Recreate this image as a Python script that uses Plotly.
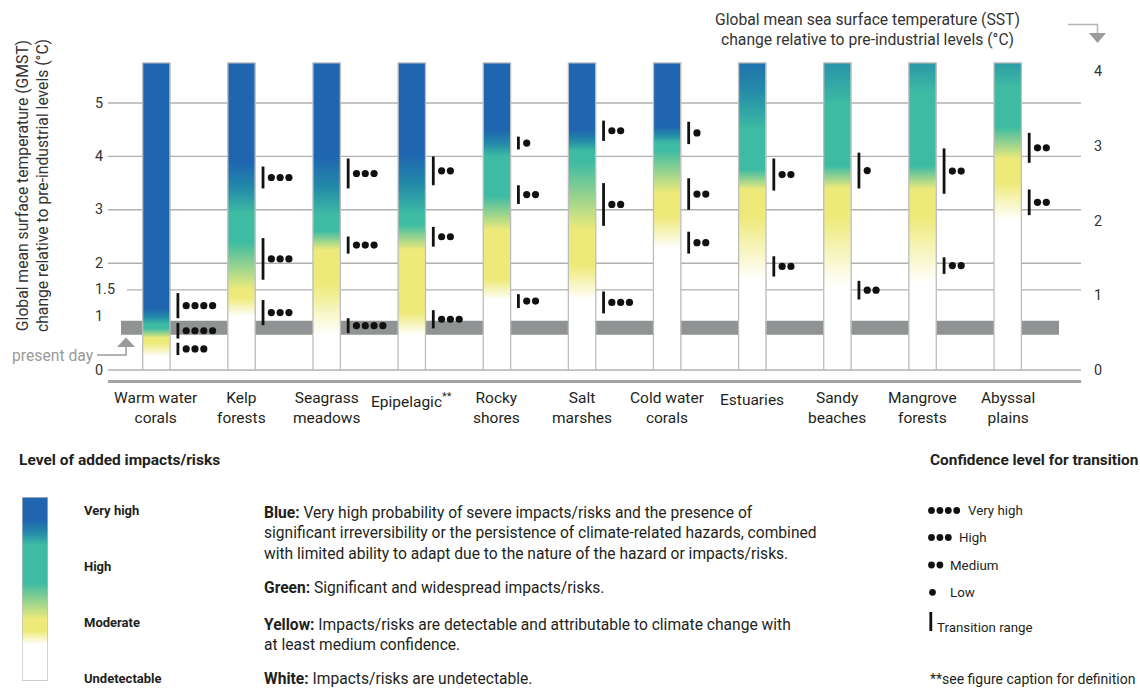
import numpy as np
import plotly.graph_objects as go

W, H = 1140, 689

# ---------------- data ----------------
CATEGORIES = ["Warm water<br>corals", "Kelp<br>forests", "Seagrass<br>meadows",
              "Epipelagic<sup>**</sup>", "Rocky<br>shores", "Salt<br>marshes",
              "Cold water<br>corals", "Estuaries", "Sandy<br>beaches", "Mangrove<br>forests",
              "Abyssal<br>plains"]

# ember colour anchors (long form): bar index, GMST (deg C), risk level
# level: 0 undetectable (white), 1 moderate (yellow), 2 high (green), 3 very high (blue)
EMBER_BAR = [0, 0, 0, 0, 0, 0, 0, 0,
             1, 1, 1, 1, 1, 1, 1, 1,
             2, 2, 2, 2, 2, 2, 2, 2,
             3, 3, 3, 3, 3, 3, 3, 3,
             4, 4, 4, 4, 4, 4, 4, 4,
             5, 5, 5, 5, 5, 5, 5, 5,
             6, 6, 6, 6, 6, 6, 6, 6,
             7, 7, 7, 7, 7, 7, 7,
             8, 8, 8, 8, 8, 8, 8,
             9, 9, 9, 9, 9, 9, 9,
             10, 10, 10, 10, 10, 10, 10]
EMBER_T = [0, 0.25, 0.50, 0.60, 0.78, 0.85, 1.15, 5.75,
           0, 1.00, 1.35, 1.50, 2.40, 2.95, 3.90, 5.75,
           0, 0.66, 1.60, 2.25, 2.60, 2.90, 4.00, 5.75,
           0, 0.66, 1.06, 2.25, 2.72, 2.93, 4.05, 5.75,
           0, 1.31, 1.69, 2.62, 3.25, 4.00, 4.50, 5.75,
           0, 1.31, 1.95, 2.62, 3.90, 4.10, 4.50, 5.75,
           0, 2.28, 2.87, 3.31, 4.12, 4.25, 4.56, 5.75,
           0, 1.69, 2.85, 3.38, 3.75, 4.50, 5.75,
           0, 1.56, 2.85, 3.40, 3.82, 5.00, 5.75,
           0, 1.62, 2.85, 3.38, 3.82, 5.20, 5.75,
           0, 2.81, 3.50, 3.95, 4.55, 5.30, 5.75]
EMBER_LEVEL = [0, 0, 1, 1, 2, 2, 3, 3,
               0, 0, 1, 1, 2, 2, 3, 3,
               0, 0, 1, 1, 2, 2, 3, 3,
               0, 0, 1, 1, 2, 2, 3, 3,
               0, 0, 1, 1, 2, 2, 3, 3,
               0, 0, 1, 1, 2, 2, 3, 3,
               0, 0, 1, 1, 2, 2, 3, 3,
               0, 0, 1, 1, 2, 2, 2.80,
               0, 0, 1, 1, 2, 2, 2.40,
               0, 0, 1, 1, 2, 2, 2.35,
               0, 0, 1, 1, 2, 2, 2.30]
BAR_TOP = 5.75

# transitions: bar index, range (GMST deg C), confidence (number of dots)
TRANS_BAR = [0, 0, 0, 1, 1, 1, 2, 2, 2, 3, 3, 3, 4, 4, 4, 5, 5, 5, 6, 6, 6,
             7, 7, 8, 8, 9, 9, 10, 10]
TRANS_LO = [0.28, 0.59, 0.97, 0.84, 1.69, 3.40, 0.69, 2.18, 3.40, 0.78, 2.31, 3.46,
            1.16, 3.11, 4.13, 1.06, 2.70, 4.29, 2.18, 3.00, 4.23,
            1.75, 3.36, 1.32, 3.40, 1.80, 3.30, 2.90, 3.88]
TRANS_HI = [0.51, 0.88, 1.44, 1.31, 2.47, 3.81, 0.97, 2.50, 3.96, 1.12, 2.68, 4.00,
            1.42, 3.46, 4.37, 1.47, 3.50, 4.67, 2.59, 3.59, 4.65,
            2.13, 3.96, 1.67, 4.07, 2.11, 4.15, 3.38, 4.44]
TRANS_CONF = [3, 4, 4, 3, 3, 3, 4, 3, 3, 3, 2, 2,
              2, 2, 1, 3, 2, 2, 2, 2, 1,
              2, 2, 2, 1, 2, 2, 2, 2]

PRESENT_DAY = [0.66, 0.92]          # GMST band
GMST_TICKS = [0, 1, 1.5, 2, 3, 4, 5]
GRID_VALUES = [0, 1.5, 2, 3, 4, 5]
SST_TICKS = [0, 1, 2, 3, 4]
GMST_PER_SST = 1.4

# ---------------- geometry / style ----------------
X0_PX, CAT_PX = 156.4, 85.13
Y0_PX, DEG_PX = 370.0, 53.4
PL, PR, PT, PB = 108, 1081, 55, 385
HALF = 13.7 / CAT_PX
FONT = "Roboto"
TXT = "#231f20"


def px(x):
    return x / W


def py(y):
    return 1 - y / H


x_range = [(PL - X0_PX) / CAT_PX, (PR - X0_PX) / CAT_PX]
y_range = [(Y0_PX - PB) / DEG_PX, (Y0_PX - PT) / DEG_PX]

CS = [[0, "#ffffff"], [1 / 3, "#eeea7a"], [2 / 3, "#3dbba3"], [0.83, "#2389a9"], [1, "#1f65b0"]]

fig = go.Figure()

# embers
edges = np.linspace(0, BAR_TOP, 576)
centers = (edges[:-1] + edges[1:]) / 2
for b in range(len(CATEGORIES)):
    t = [EMBER_T[k] for k in range(len(EMBER_BAR)) if EMBER_BAR[k] == b]
    lv = [EMBER_LEVEL[k] for k in range(len(EMBER_BAR)) if EMBER_BAR[k] == b]
    z = np.interp(centers, t, lv).reshape(-1, 1)
    fig.add_trace(go.Heatmap(x=[b - HALF, b + HALF], y=edges, z=z, colorscale=CS,
                             zmin=0, zmax=3, showscale=False, hoverinfo="skip"))

# transition markers
LINE_OFF = 21.5 / CAT_PX
lx, ly, dx, dy = [], [], [], []
for b, lo, hi, n in zip(TRANS_BAR, TRANS_LO, TRANS_HI, TRANS_CONF):
    xl = b + LINE_OFF
    lx += [xl, xl, None]
    ly += [lo, hi, None]
    for k in range(n):
        dx.append(xl + (8.3 + 8.8 * k) / CAT_PX)
        dy.append((lo + hi) / 2)
fig.add_trace(go.Scatter(x=lx, y=ly, mode="lines", line=dict(color="#111111", width=2.8),
                         hoverinfo="skip", showlegend=False))
fig.add_trace(go.Scatter(x=dx, y=dy, mode="markers", marker=dict(color="#111111", size=7.2),
                         hoverinfo="skip", showlegend=False))
# dummy for right axis
fig.add_trace(go.Scatter(x=[0], y=[0], yaxis="y2", mode="markers", marker=dict(opacity=0),
                         hoverinfo="skip", showlegend=False))

# legend colour bar
LEG_POS = [0, 0.2, 0.27, 0.335, 0.535, 0.74, 0.876, 1]
LEG_LVL = [0, 0, 1, 1, 2, 2, 3, 3]
le = np.linspace(0, 1, 301)
lc = (le[:-1] + le[1:]) / 2
fig.add_trace(go.Heatmap(x=[0, 1], y=le, z=np.interp(lc, LEG_POS, LEG_LVL).reshape(-1, 1),
                         colorscale=CS, zmin=0, zmax=3, showscale=False, hoverinfo="skip",
                         xaxis="x3", yaxis="y3"))

shapes = []
# gridlines
for v in GRID_VALUES:
    x0 = 127 if v == 1.5 else PL
    shapes.append(dict(type="line", xref="paper", yref="y", x0=px(x0), x1=px(PR), y0=v, y1=v,
                       line=dict(color="#b0b0b0", width=1.4), layer="below"))
# present-day band
shapes.append(dict(type="rect", xref="x", yref="y", x0=(121 - X0_PX) / CAT_PX,
                   x1=(1059 - X0_PX) / CAT_PX, y0=PRESENT_DAY[0], y1=PRESENT_DAY[1],
                   fillcolor="#909393", line=dict(width=0), layer="below"))
# base axis line
shapes.append(dict(type="line", xref="paper", yref="paper", x0=px(PL), x1=px(PR),
                   y0=py(381.5), y1=py(381.5), line=dict(color="#a3a3a3", width=3)))
# bar outlines
for b in range(len(CATEGORIES)):
    shapes.append(dict(type="rect", xref="x", yref="y", x0=b - HALF, x1=b + HALF, y0=0,
                       y1=BAR_TOP, line=dict(color="#bdbdbd", width=1.3)))
# legend bar outline
shapes.append(dict(type="rect", xref="x3", yref="y3", x0=0, x1=1, y0=0, y1=1,
                   line=dict(color="#bdbdbd", width=1.3)))
# present-day arrow
GREY = "#9a9a9a"
shapes.append(dict(type="path", xref="paper", yref="paper",
                   path=f"M {px(97)},{py(355)} L {px(126)},{py(355)} L {px(126)},{py(345)}",
                   line=dict(color=GREY, width=1.5)))
shapes.append(dict(type="path", xref="paper", yref="paper",
                   path=f"M {px(117)},{py(347)} L {px(135)},{py(347)} L {px(126)},{py(337.5)} Z",
                   fillcolor=GREY, line=dict(width=0)))
# top-right arrow
shapes.append(dict(type="path", xref="paper", yref="paper",
                   path=f"M {px(1068)},{py(24.5)} L {px(1097.5)},{py(24.5)} L {px(1097.5)},{py(34)}",
                   line=dict(color="#b5b5b5", width=1.5)))
shapes.append(dict(type="path", xref="paper", yref="paper",
                   path=f"M {px(1089)},{py(33)} L {px(1106)},{py(33)} L {px(1097.5)},{py(43)} Z",
                   fillcolor=GREY, line=dict(width=0)))


def dot(cx, cy, r=3.0):
    return dict(type="circle", xref="paper", yref="paper", xsizemode="pixel", ysizemode="pixel",
                xanchor=px(cx), yanchor=py(cy), x0=-r, x1=r, y0=-r, y1=r,
                fillcolor="#111111", line=dict(width=0))


CONF_LABELS = ["Very high", "High", "Medium", "Low"]
CONF_DOTS = [4, 3, 2, 1]
CONF_ROW_Y = [510.5, 537.5, 565, 592.3]
CONF_LABEL_X = [966, 956.5, 948, 948]
CONF_DOT_X0 = [931.5, 931.5, 931.5, 932.5]
for n, yy, x0 in zip(CONF_DOTS, CONF_ROW_Y, CONF_DOT_X0):
    for k in range(n):
        shapes.append(dot(x0 + 8.4 * k, yy, 3.4))
shapes.append(dict(type="line", xref="paper", yref="paper", x0=px(930.8), x1=px(930.8),
                   y0=py(612), y1=py(631), line=dict(color="#111111", width=2.8)))

ann = []


def text(x, y, s, size, color=TXT, xanchor="left", xref="paper", yref="paper", angle=0):
    ann.append(dict(x=x, y=y, xref=xref, yref=yref, text=s, showarrow=False, xanchor=xanchor,
                    yanchor="middle", textangle=angle, align="center" if xanchor == "center" else "left",
                    font=dict(family=FONT, size=size, color=color)))


# category labels
for b, lab in enumerate(CATEGORIES):
    yc = 408 if "<br>" in lab else 400
    text(b, py(yc), lab, 15.5, xanchor="center", xref="x")
# left tick labels
for v in GMST_TICKS:
    text(px(93), v, f"{v:g}", 14.4, color="#333333", yref="y")
# axis titles
text(px(32), py(186), "Global mean surface temperature (GMST)<br>"
     "change relative to pre-industrial levels (°C)", 15.7, color="#333333",
     xanchor="center", angle=-90)
text(px(867), py(29.5), "Global mean sea surface temperature (SST)<br>"
     "change relative to pre-industrial levels (°C)", 15.7, color="#333333", xanchor="center")
text(px(10), py(355), "present day", 15.7, color=GREY)

# left legend
text(px(17), py(459.5), "<b>Level of added impacts/risks</b>", 15.5)
for s, yy in zip(["Very high", "High", "Moderate", "Undetectable"], [510.7, 566.7, 622.7, 678]):
    text(px(82), py(yy), f"<b>{s}</b>", 13)
DESC = [("<b>Blue:</b> Very high probability of severe impacts/risks and the presence of<br>"
         "significant irreversibility or the persistence of climate-related hazards, combined<br>"
         "with limited ability to adapt due to the nature of the hazard or impacts/risks.", 533.5),
        ("<b>Green:</b> Significant and widespread impacts/risks.", 588),
        ("<b>Yellow:</b> Impacts/risks are detectable and attributable to climate change with<br>"
         "at least medium confidence.", 634.8),
        ("<b>White:</b> Impacts/risks are undetectable.", 678.5)]
for s, yy in DESC:
    text(px(262), py(yy), s, 15.6)

# confidence legend
text(px(928), py(460), "<b>Confidence level for transition</b>", 15.4)
for s, yy, xx in zip(CONF_LABELS, CONF_ROW_Y, CONF_LABEL_X):
    text(px(xx), py(yy), s, 13.3)
text(px(935), py(627), "Transition range", 13.3)
text(px(928), py(679), "**see figure caption for definition", 14)

fig.update_layout(
    width=W, height=H, margin=dict(l=0, r=0, t=0, b=0),
    paper_bgcolor="white", plot_bgcolor="white", showlegend=False,
    font=dict(family=FONT, color=TXT),
    xaxis=dict(domain=[px(PL), px(PR)], range=x_range, showgrid=False, zeroline=False,
               showline=False, showticklabels=False, ticks="", fixedrange=True),
    yaxis=dict(domain=[py(PB), py(PT)], range=y_range, showgrid=False, zeroline=False,
               showline=False, showticklabels=False, ticks="", fixedrange=True),
    yaxis2=dict(overlaying="y", side="right", anchor="x",
                range=[r / GMST_PER_SST for r in y_range], tickvals=SST_TICKS,
                showgrid=False, zeroline=False, showline=False, ticks="",
                ticklabelstandoff=12, tickfont=dict(family=FONT, size=14.4, color="#333333")),
    xaxis3=dict(domain=[px(22), px(48)], range=[0, 1], visible=False, anchor="y3"),
    yaxis3=dict(domain=[py(681), py(497)], range=[0, 1], visible=False, anchor="x3"),
    shapes=shapes, annotations=ann,
)

fig.write_html("out.html")
